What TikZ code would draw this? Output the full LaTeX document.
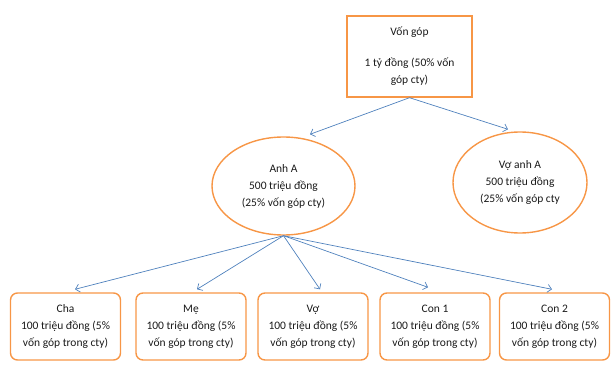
\documentclass[tikz,border=0pt]{standalone}
\usepackage{fontspec}
\setmainfont{Carlito}
\usepackage{xcolor}
\usetikzlibrary{arrows.meta,shapes.geometric}
\definecolor{EDGE}{HTML}{F79646}
\definecolor{LINK}{HTML}{4F81BD}
\definecolor{INK}{HTML}{1A1A1A}

\begin{document}
\begin{tikzpicture}[
    x=1pt, y=-1pt,
    topbox/.style={draw=EDGE, line width=1.4pt, minimum width=125pt, minimum height=81pt, inner sep=0pt},
    owner/.style={ellipse, draw=EDGE, line width=1.4pt, inner sep=0pt},
    member/.style={draw=EDGE, line width=1.4pt, rounded corners=7pt, minimum width=110pt, minimum height=67pt, inner sep=0pt},
    txt/.style={font=\fontsize{11.5}{17}\selectfont, text=INK, align=center},
    link/.style={-{Straight Barb[length=4pt, width=8pt]}, draw=LINK, line width=0.7pt},
  ]
  \useasboundingbox (0,0) rectangle (615,371);

  % top box
  \node[topbox, txt] (gop) at (409.5,56.5) {Vốn góp\\[14pt]1 tỷ đồng (50\% vốn\\góp cty)};

  % owners
  \node[owner, txt, minimum width=143pt, minimum height=98pt] (anha) at (283.5,186) {Anh A\\500 triệu đồng\\(25\% vốn góp cty)};
  \node[owner, txt, minimum width=134pt, minimum height=101pt] (voanha) at (520,182.5) {Vợ anh A\\500 triệu đồng\\(25\% vốn góp cty};

  % family members
  \node[member, txt] (cha)  at (65.5,326.5) {Cha\\100 triệu đồng (5\%\\vốn góp trong cty)};
  \node[member, txt] (me)   at (191,326.5)  {Mẹ\\100 triệu đồng (5\%\\vốn góp trong cty)};
  \node[member, txt] (vo)   at (313,326.5)  {Vợ\\100 triệu đồng (5\%\\vốn góp trong cty)};
  \node[member, txt] (con1) at (435,326.5)  {Con 1\\100 triệu đồng (5\%\\vốn góp trong cty)};
  \node[member, txt] (con2) at (554.5,326.5) {Con 2\\100 triệu đồng (5\%\\vốn góp trong cty)};

  % links from the top box
  \draw[link] (gop.south) -- ([xshift=26.5pt, yshift=2pt]anha.north);
  \draw[link] (gop.south) -- ([xshift=-12pt, yshift=2pt]voanha.north);

  % links from Anh A
  \draw[link] (anha.south) -- ([xshift=9.5pt, yshift=3pt]cha.north);
  \draw[link] (anha.south) -- ([xshift=6pt, yshift=3pt]me.north);
  \draw[link] (anha.south) -- ([xshift=7pt, yshift=3pt]vo.north);
  \draw[link] (anha.south) -- ([xshift=-7pt, yshift=5pt]con1.north);
  \draw[link] (anha.south) -- ([xshift=-2.5pt, yshift=3pt]con2.north);

\end{tikzpicture}
\end{document}
